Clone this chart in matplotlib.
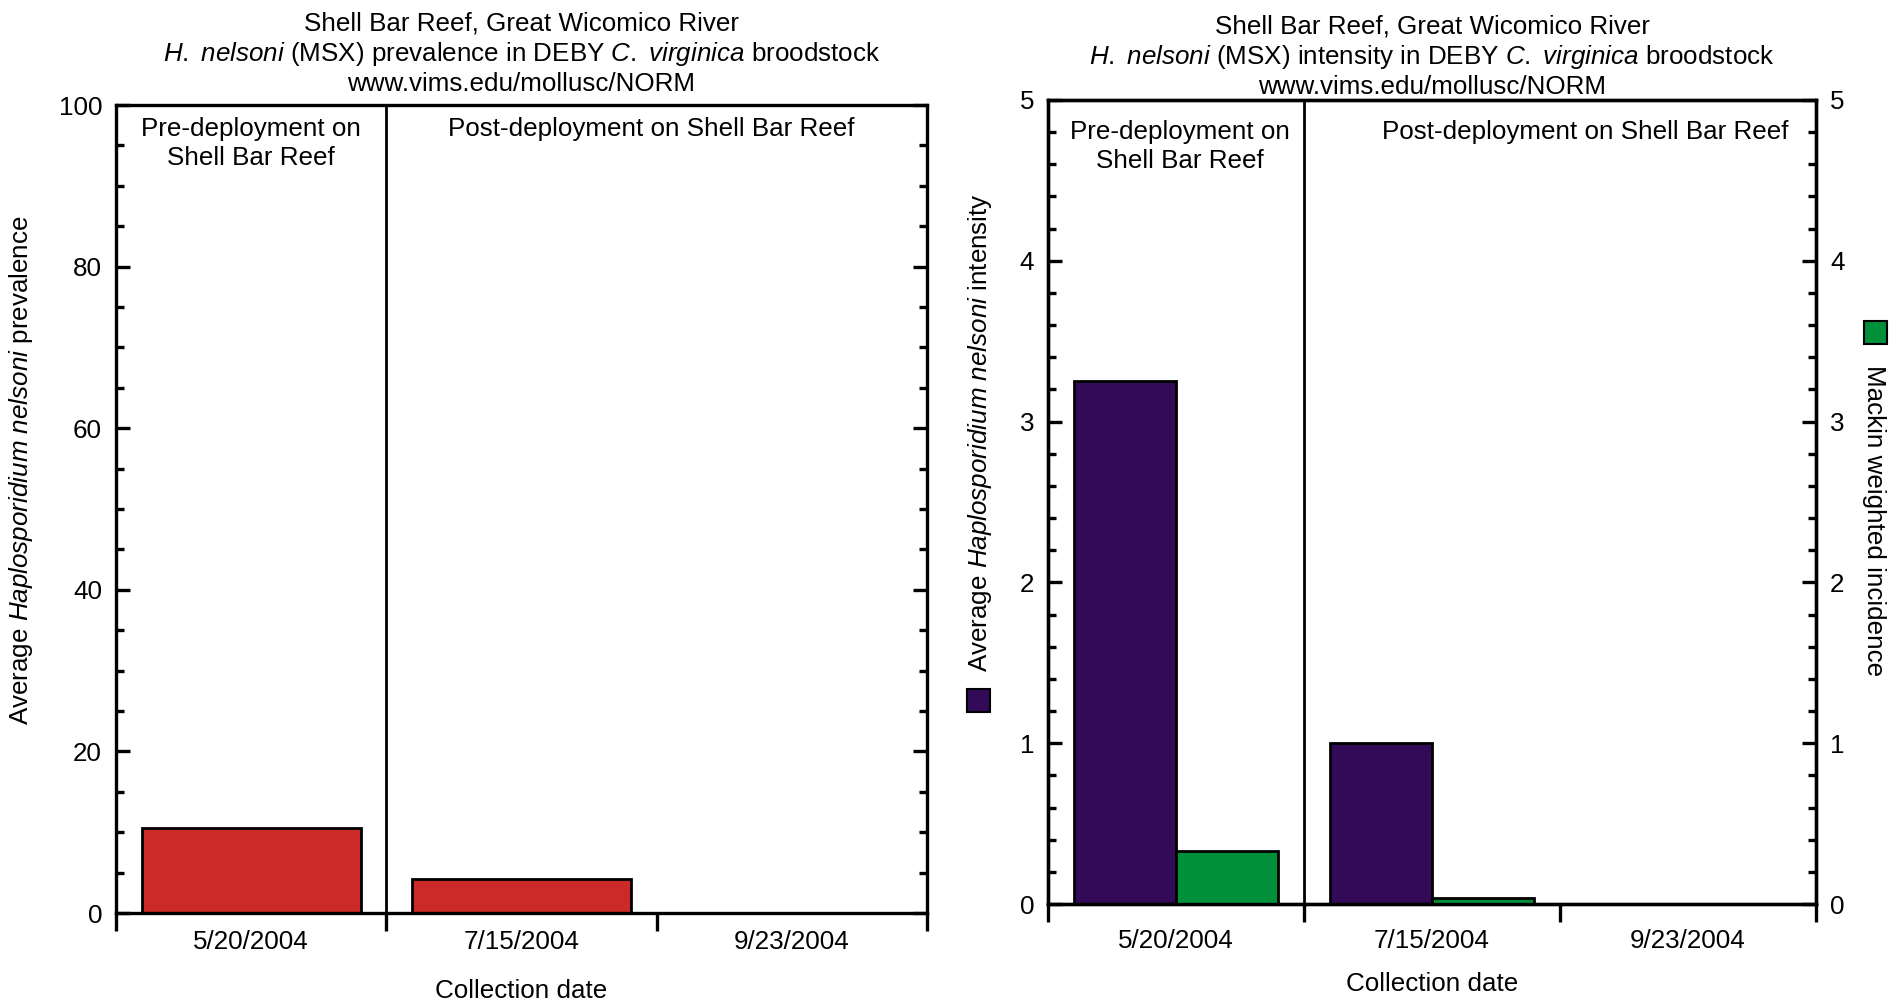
import matplotlib
matplotlib.use("Agg")
import matplotlib.pyplot as plt
from matplotlib.patches import Rectangle
from matplotlib.ticker import MultipleLocator

plt.rcParams['font.family'] = ['Liberation Sans', 'DejaVu Sans']
plt.rcParams['mathtext.fontset'] = 'custom'
plt.rcParams['mathtext.rm'] = 'Liberation Sans'
plt.rcParams['mathtext.it'] = 'Liberation Sans:italic'

# data
dates = ['5/20/2004', '7/15/2004', '9/23/2004']
prevalence = [10.5, 4.2, 0.0]
intensity = [3.25, 1.0, 0.0]
mackin = [0.33, 0.04, 0.0]

red = '#CC2929'
purple = '#330A58'
green = '#00903A'
fs = 18.7
xpos = [1, 2, 3]

fig = plt.figure(figsize=(18.98, 10.02), dpi=100)


def frame(ax, ymax, major, minor, xpad, lpad):
    ax.set_xlim(0.5, 3.5)
    ax.set_ylim(0, ymax)
    for s in ax.spines.values():
        s.set_linewidth(2.4)
    ax.set_xticks([0.5, 1.5, 2.5, 3.5])
    ax.set_xticklabels([])
    ax.set_xticks(xpos, dates, minor=True)
    ax.tick_params(axis='x', which='major', direction='out', length=13, width=2.4)
    ax.tick_params(axis='x', which='minor', length=0, pad=xpad, labelsize=fs)
    ax.yaxis.set_major_locator(MultipleLocator(major))
    ax.yaxis.set_minor_locator(MultipleLocator(minor))
    ax.tick_params(axis='y', which='both', direction='in', left=True, right=True, width=2.4, labelsize=fs, pad=10)
    ax.tick_params(axis='y', which='major', length=10)
    ax.tick_params(axis='y', which='minor', length=6)
    ax.axvline(1.5, color='black', lw=2)
    ax.set_xlabel('Collection date', fontsize=fs, labelpad=lpad)


# ---- left: prevalence
ax1 = fig.add_axes([0.0611, 0.0888, 0.4273, 0.8064])
frame(ax1, 100, 20, 5, 12, 18)
ax1.bar(xpos, prevalence, width=0.81, color=red, edgecolor='black', linewidth=2)
ax1.set_title('Shell Bar Reef, Great Wicomico River\n'
              r'$\it{H.\ nelsoni}$ (MSX) prevalence in DEBY $\it{C.\ virginica}$ broodstock' '\n'
              'www.vims.edu/mollusc/NORM', fontsize=fs, pad=10, linespacing=1.22)
ax1.set_ylabel(r'Average $\it{Haplosporidium\ nelsoni}$ prevalence', fontsize=fs)
ax1.yaxis.set_label_coords(-0.100, 0.548)
tr1 = ax1.get_xaxis_transform()
ax1.text(1.0, 0.985, 'Pre-deployment on\nShell Bar Reef', transform=tr1, ha='center', va='top',
         fontsize=fs, linespacing=1.28)
ax1.text(2.48, 0.985, 'Post-deployment on Shell Bar Reef', transform=tr1, ha='center', va='top', fontsize=fs)

# ---- right: intensity + Mackin weighted incidence
ax2 = fig.add_axes([0.5522, 0.0978, 0.4046, 0.8024])
frame(ax2, 5, 1, 0.2, 18, 14)
ax2.tick_params(axis='y', which='both', right=False)
ax2.bar([x - 0.2 for x in xpos], intensity, width=0.4, color=purple, edgecolor='black', linewidth=2)
ax3 = ax2.twinx()
ax3.set_ylim(0, 5)
ax3.yaxis.set_major_locator(MultipleLocator(1))
ax3.yaxis.set_minor_locator(MultipleLocator(0.2))
ax3.tick_params(axis='y', which='both', direction='in', width=2.4, labelsize=fs, pad=10)
ax3.tick_params(axis='y', which='major', length=10)
ax3.tick_params(axis='y', which='minor', length=6)
for s in ax3.spines.values():
    s.set_linewidth(2.4)
ax3.bar([x + 0.2 for x in xpos], mackin, width=0.4, color=green, edgecolor='black', linewidth=2)

ax2.set_title('Shell Bar Reef, Great Wicomico River\n'
              r'$\it{H.\ nelsoni}$ (MSX) intensity in DEBY $\it{C.\ virginica}$ broodstock' '\n'
              'www.vims.edu/mollusc/NORM', fontsize=fs, pad=4, linespacing=1.22)
ax2.set_ylabel(r'Average $\it{Haplosporidium\ nelsoni}$ intensity', fontsize=fs)
ax2.yaxis.set_label_coords(-0.071, 0.586)
ax3.set_ylabel('Mackin weighted incidence', fontsize=fs, rotation=-90, va='center')
ax3.yaxis.set_label_coords(1.0755, 0.477)
tr2 = ax2.get_xaxis_transform()
ax2.text(1.016, 0.975, 'Pre-deployment on\nShell Bar Reef', transform=tr2, ha='center', va='top',
         fontsize=fs, linespacing=1.28)
ax2.text(2.597, 0.975, 'Post-deployment on Shell Bar Reef', transform=tr2, ha='center', va='top', fontsize=fs)

# legend keys sitting next to the axis labels
ax2.add_patch(Rectangle((-0.091 - 0.015, 0.2525 - 0.0143), 0.030, 0.0286, transform=ax2.transAxes,
                        facecolor=purple, edgecolor='black', lw=1.5, clip_on=False))
ax3.add_patch(Rectangle((1.077 - 0.015, 0.7114 - 0.0143), 0.030, 0.0286, transform=ax3.transAxes,
                        facecolor=green, edgecolor='black', lw=1.5, clip_on=False))

fig.savefig('out.png', dpi=100)
